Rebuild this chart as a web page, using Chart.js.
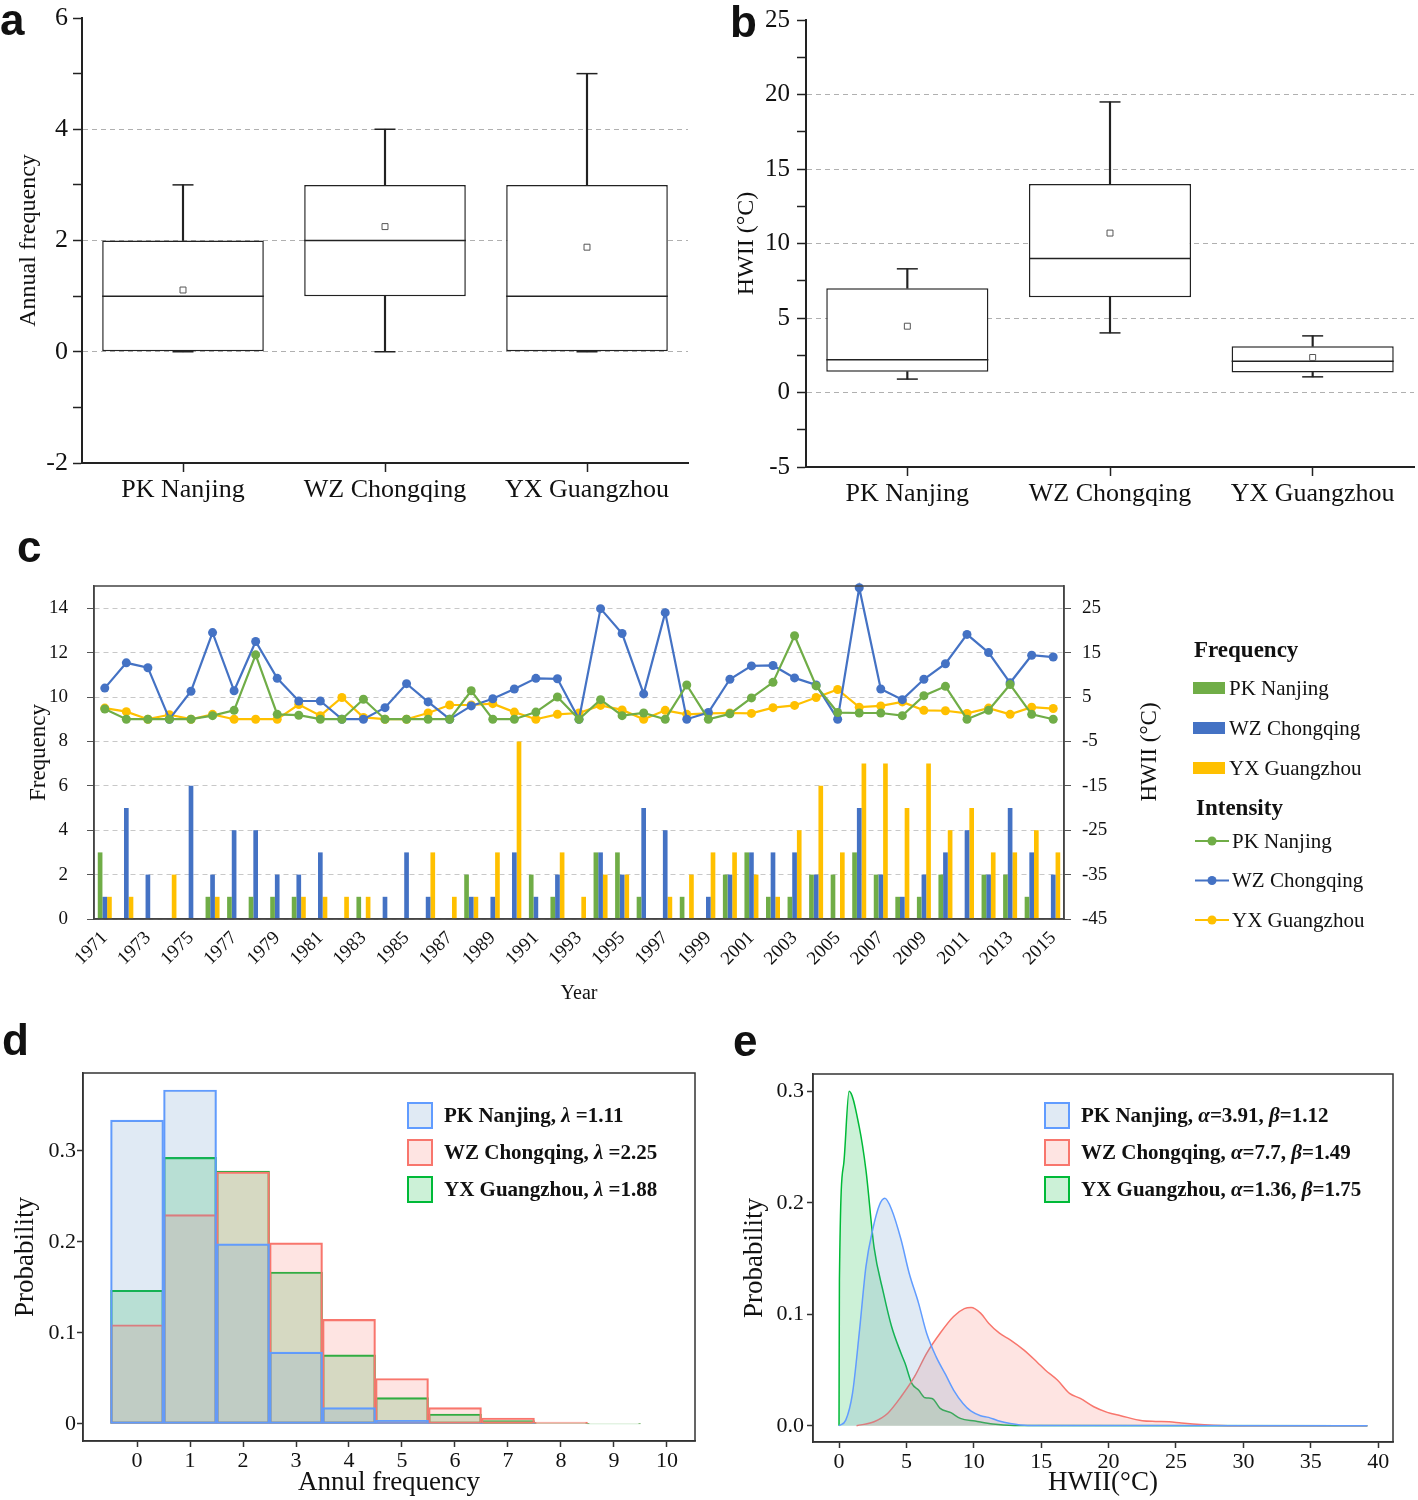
<!DOCTYPE html>
<html>
<head>
<meta charset="utf-8">
<script src="https://cdn.jsdelivr.net/npm/chart.js@4.4.1/dist/chart.umd.min.js"></script>
<style>
  body { margin: 0; background: #fff; }
  #page { position: relative; width: 1418px; height: 1500px; overflow: hidden; background: #fff; }
  .panel { position: absolute; }
  .tag { position: absolute; font: bold 44px "Liberation Sans", Arial, sans-serif; line-height: 44px; color: #111; }
</style>
</head>
<body>
<div id="page">
  <div class="panel" style="left:0;top:0;width:710px;height:520px"><canvas id="chartA"></canvas></div>
  <div class="panel" style="left:710px;top:0;width:708px;height:520px"><canvas id="chartB"></canvas></div>
  <div class="panel" style="left:0;top:560px;width:1418px;height:460px"><canvas id="chartC"></canvas></div>
  <div class="panel" style="left:0;top:1030px;width:710px;height:470px"><canvas id="chartD"></canvas></div>
  <div class="panel" style="left:710px;top:1030px;width:708px;height:470px"><canvas id="chartE"></canvas></div>
  <div class="tag" style="left:0;top:-2px">a</div>
  <div class="tag" style="left:730px;top:0">b</div>
  <div class="tag" style="left:17px;top:525px">c</div>
  <div class="tag" style="left:2px;top:1018px">d</div>
  <div class="tag" style="left:733px;top:1019px">e</div>
</div>
<script>
// sites
const sites = ['PK Nanjing', 'WZ Chongqing', 'YX Guangzhou'];

// a: annual frequency box plots
const aMin = [0, 0, 0];
const aQ1 = [0, 1, 0];
const aMed = [1, 2, 1];
const aQ3 = [2, 3, 3];
const aMax = [3, 4, 5];
const aMean = [1.11, 2.25, 1.88];
const aTicks = [-2, -1, 0, 1, 2, 3, 4, 5, 6];
const aTickLabels = [-2, 0, 2, 4, 6];
const aGrid = [0, 2, 4];

// b: HWII box plots
const bMin = [0.9, 4.0, 1.05];
const bQ1 = [1.4, 6.4, 1.35];
const bMed = [2.2, 9.0, 2.1];
const bQ3 = [7.0, 14.0, 3.1];
const bMax = [8.3, 19.5, 3.8];
const bMean = [4.45, 10.7, 2.35];
const bTicks = [-5, -2.5, 0, 2.5, 5, 7.5, 10, 12.5, 15, 17.5, 20, 22.5, 25];
const bTickLabels = [-5, 0, 5, 10, 15, 20, 25];
const bGrid = [0, 5, 10, 15, 20];

// c: yearly frequency (bars) and intensity (lines)
const years = ['1971','1972','1973','1974','1975','1976','1977','1978','1979','1980',
  '1981','1982','1983','1984','1985','1986','1987','1988','1989','1990',
  '1991','1992','1993','1994','1995','1996','1997','1998','1999','2000',
  '2001','2002','2003','2004','2005','2006','2007','2008','2009','2010',
  '2011','2012','2013','2014','2015'];
const freqPK = [3,0,0,0,0,1,1,1,1,1, 0,0,1,0,0,0,0,2,0,0, 2,1,0,3,3,1,0,1,0,2, 3,1,1,2,2,3,2,1,1,2, 0,2,2,1,0];
const freqWZ = [1,5,2,0,6,2,4,4,2,2, 3,0,0,1,3,1,0,1,1,3, 1,2,0,3,2,5,4,0,1,2, 3,3,3,2,0,5,2,1,2,3, 4,2,5,3,2];
const freqYX = [1,1,0,2,0,1,0,0,0,1, 1,1,1,0,0,3,1,1,3,8, 0,3,1,2,2,0,1,2,3,3, 2,1,4,6,3,7,7,5,7,4, 5,3,3,4,3];
const hwiiPK = [2.3,0,0,0,0,0.8,2.0,14.5,1.1,0.9, 0,0,4.5,0,0,0,0,6.4,0,0, 1.6,5.0,0,4.4,0.8,1.4,0,7.7,0,1.2,
  4.8,8.3,18.8,7.5,1.5,1.4,1.4,0.8,5.3,7.4, 0,2.0,7.8,1.1,0];
const hwiiWZ = [7.0,12.7,11.6,0,6.3,19.5,6.4,17.5,9.2,4.1, 4.1,0,0,2.6,8.0,3.9,0,3.0,4.6,6.8, 9.2,9.1,0,24.9,19.3,5.7,24.0,0,1.5,9.0,
  12.0,12.1,9.3,7.7,0,29.6,6.8,4.4,9.0,12.5, 19.1,15.0,8.2,14.4,14.0];
const hwiiYX = [2.5,1.7,0,1.0,0,1.1,0,0,0,3.3, 0.8,4.9,0.4,0,0,1.4,3.2,3.2,3.5,1.6, 0,1.1,1.4,3.1,2.1,0,2.0,1.1,1.3,1.4,
  1.3,2.6,3.1,4.9,6.7,2.7,3.0,3.9,2.0,1.9, 1.3,2.5,1.1,2.7,2.4];
const cLeftTicks = [0, 2, 4, 6, 8, 10, 12, 14];
const cRightTicks = [-45, -35, -25, -15, -5, 5, 15, 25];

// d: Poisson fit of annual frequency
const dBins = [0, 1, 2, 3, 4, 5, 6, 7, 8, 9];
const dPK = [0.334, 0.367, 0.198, 0.079, 0.018, 0.004, 0.001, 0.0003, 0, 0];
const dWZ = [0.109, 0.230, 0.277, 0.199, 0.115, 0.050, 0.018, 0.0066, 0.002, 0.0005];
const dYX = [0.147, 0.293, 0.278, 0.167, 0.076, 0.029, 0.011, 0.0037, 0.001, 0.0002];
const dTicks = [0, 1, 2, 3, 4, 5, 6, 7, 8, 9, 10];
const dYTicks = [0, 0.1, 0.2, 0.3];
const dLabels = ['PK Nanjing, λ =1.11', 'WZ Chongqing, λ =2.25', 'YX Guangzhou, λ =1.88'];

// e: gamma fit of HWII
const ePKx = [0, 0.5, 1.0, 1.5, 2.0, 2.5, 3.0, 3.4, 3.9, 4.6, 5.2, 5.9, 6.5, 7.2, 7.9, 8.5, 9.2, 9.8, 10.5, 11.1, 11.8, 12.7, 14.0, 39.2];
const ePKy = [0, 0.005, 0.029, 0.083, 0.143, 0.176, 0.198, 0.204, 0.194, 0.167, 0.137, 0.110, 0.083, 0.062, 0.046, 0.032, 0.020, 0.013, 0.009, 0.0075, 0.0045, 0.002, 0.0003, 0];
const eWZx = [1.3, 2.6, 3.6, 4.6, 5.6, 6.5, 7.5, 8.5, 9.3, 9.8, 10.5, 11.1, 11.9, 12.7, 13.7, 14.7, 15.3, 16.2, 17.1, 17.9, 18.9, 19.9, 20.9, 22.5, 23.5, 24.5, 25.4, 27.1, 29.3, 39.2];
const eWZy = [0, 0.0036, 0.011, 0.026, 0.044, 0.065, 0.083, 0.098, 0.105, 0.106, 0.101, 0.092, 0.083, 0.077, 0.068, 0.057, 0.050, 0.041, 0.029, 0.0245, 0.017, 0.012, 0.009, 0.0045, 0.0039, 0.0036, 0.0024, 0.0009, 0, 0];
const eYXx = [0, 0.03, 0.35, 0.75, 1.5, 2.0, 2.6, 3.3, 3.9, 4.6, 4.9, 5.4, 5.9, 6.4, 6.9, 7.5, 8.3, 9.0, 10.1, 11.4, 13.0, 39.2];
const eYXy = [0, 0.13, 0.235, 0.300, 0.268, 0.229, 0.160, 0.119, 0.089, 0.065, 0.056, 0.038, 0.032, 0.025, 0.0245, 0.0155, 0.0117, 0.0066, 0.0042, 0.0015, 0.0003, 0];
const eTicks = [0, 5, 10, 15, 20, 25, 30, 35, 40];
const eYTicks = [0, 0.1, 0.2, 0.3];
const eLabels = ['PK Nanjing, α=3.91, β=1.12', 'WZ Chongqing, α=7.7, β=1.49', 'YX Guangzhou, α=1.36, β=1.75'];

const SERIF = '"Liberation Serif", "Times New Roman", serif';
Chart.defaults.font.family = SERIF;
Chart.defaults.color = '#111';
Chart.defaults.animation = false;
Chart.defaults.events = [];
Chart.defaults.maintainAspectRatio = false;
Chart.defaults.layout.autoPadding = false;
Chart.defaults.plugins.legend.display = false;
Chart.defaults.plugins.tooltip.enabled = false;

const green = '#70AD47', blue = '#4472C4', yellow = '#FFC000';
const pkLine = '#619CFF', wzLine = '#F8766D', yxLine = '#00BA38';
const pkFill = 'rgba(100,150,200,0.2)', wzFill = 'rgba(248,118,109,0.2)', yxFill = 'rgba(0,186,56,0.2)';

const setTicks = vals => ax => { ax.ticks = vals.map(v => ({value: v})); };
// fixed width for a vertical axis, without extra room for the end labels
const fixW = w => s => { s.width = w; s.paddingTop = 0; s.paddingBottom = 0; };

const framePlugin = {
  id: 'frame',
  afterDraw(chart, args, opts) {
    const {ctx, chartArea: a} = chart;
    ctx.save();
    ctx.strokeStyle = opts.color || '#333';
    ctx.lineWidth = opts.width || 1.5;
    ctx.strokeRect(a.left, a.top, a.right - a.left, a.bottom - a.top);
    ctx.restore();
  }
};

// legend with boxes, greek letters in italic
const boxLegend = {
  id: 'boxLegend',
  afterDraw(chart, args, opts) {
    const {ctx, chartArea: a} = chart;
    ctx.save();
    chart.data.datasets.forEach((ds, i) => {
      const x = a.left + opts.dx, y = a.top + opts.dy + i * 37;
      ctx.fillStyle = '#fff';
      ctx.fillRect(x, y, 24, 25);
      ctx.fillStyle = ds.backgroundColor;
      ctx.fillRect(x, y, 24, 25);
      ctx.strokeStyle = ds.borderColor;
      ctx.lineWidth = 2;
      ctx.strokeRect(x, y, 24, 25);
      let tx = x + 36;
      ctx.textBaseline = 'middle';
      ctx.fillStyle = '#111';
      for (const part of ds.label.split(/([α-ω])/)) {
        if (!part) continue;
        const it = /[α-ω]/.test(part);
        ctx.font = (it ? 'italic ' : '') + 'bold 21px ' + SERIF;
        ctx.fillText(part, tx, y + 14);
        tx += ctx.measureText(part).width;
      }
    });
    ctx.restore();
  }
};

function boxChart(id, mn, q1, med, q3, mx, mean, cfg) {
  const pair = (lo, hi) => lo.map((v, i) => [v, hi[i]]);
  const marks = (data, style, r, more) => Object.assign({
    type: 'line', data, showLine: false, pointStyle: style, pointRadius: r, pointHoverRadius: r,
    pointBorderColor: '#222', pointBorderWidth: 1.5, pointBackgroundColor: '#fff', clip: false
  }, more);
  return new Chart(document.getElementById(id), {
    type: 'bar',
    data: {
      labels: sites,
      datasets: [
        marks(mean, 'rect', 4.2, {pointBorderColor: '#555', pointBorderWidth: 1}),
        marks(med, 'line', cfg.halfBox),
        marks(mx, 'line', 10.5),
        marks(mn, 'line', 10.5),
        {data: pair(q3, mx), backgroundColor: '#222', barThickness: 1.5},
        {data: pair(mn, q1), backgroundColor: '#222', barThickness: 1.5},
        {data: pair(q1, q3), backgroundColor: '#fff', borderColor: '#222', borderWidth: 1.5,
         borderSkipped: false, barPercentage: 0.8, categoryPercentage: 1}
      ]
    },
    options: {
      layout: {padding: {top: cfg.top, right: cfg.right, left: 0, bottom: 0}},
      scales: {
        x: {
          stacked: true,
          grid: {offset: false, drawOnChartArea: false, tickLength: 9, tickWidth: 1.5, tickColor: '#222'},
          border: {color: '#222', width: 2},
          ticks: {font: {size: 26}, padding: 3, maxRotation: 0},
          afterFit: s => { s.height = cfg.xH; }
        },
        y: {
          stacked: false, min: cfg.min, max: cfg.max,
          afterBuildTicks: setTicks(cfg.ticks),
          ticks: {font: {size: cfg.tickSize}, padding: cfg.tickPad,
                  callback: v => cfg.labels.includes(v) ? String(v) : ''},
          grid: {color: c => (c.tick && cfg.grid.includes(c.tick.value)) ? '#b0b0b0' : 'rgba(0,0,0,0)',
                 tickColor: '#222', tickLength: 9, tickWidth: 1.5},
          border: {color: '#222', width: 2, dash: [5, 4]},
          title: {display: true, text: cfg.title, font: {size: 24}, padding: {top: cfg.titlePad}},
          afterFit: fixW(cfg.yW)
        }
      }
    }
  });
}

boxChart('chartA', aMin, aQ1, aMed, aQ3, aMax, aMean, {
  halfBox: 80.8, top: 18, right: 22, xH: 57, yW: 82, min: -2, max: 6,
  ticks: aTicks, labels: aTickLabels, grid: aGrid, tickSize: 26, tickPad: 5,
  title: 'Annual frequency', titlePad: 14
});
boxChart('chartB', bMin, bQ1, bMed, bQ3, bMax, bMean, {
  halfBox: 81, top: 20, right: 4, xH: 53, yW: 96, min: -5, max: 25,
  ticks: bTicks, labels: bTickLabels, grid: bGrid, tickSize: 25, tickPad: 7,
  title: 'HWII (°C)', titlePad: 22
});

// panel c legend and right axis title
const cLegend = {
  id: 'cLegend',
  afterDraw(chart) {
    const ctx = chart.ctx;
    const ds = chart.data.datasets;
    const bars = ds.filter(d => d.type !== 'line');
    const lines = ds.filter(d => d.type === 'line');
    ctx.save();
    ctx.fillStyle = '#111';
    ctx.textBaseline = 'alphabetic';
    ctx.font = 'bold 23px ' + SERIF;
    ctx.fillText('Frequency', 1194, 97);
    ctx.fillText('Intensity', 1196, 255);
    ctx.font = '21px ' + SERIF;
    ctx.textBaseline = 'middle';
    bars.forEach((d, i) => {
      const y = 128 + i * 40;
      ctx.fillStyle = d.backgroundColor;
      ctx.fillRect(1193, y - 6, 32, 12);
      ctx.fillStyle = '#111';
      ctx.fillText(d.label, 1229, y + 1);
    });
    lines.forEach((d, i) => {
      const y = 281 + i * 39.5;
      ctx.strokeStyle = d.borderColor;
      ctx.lineWidth = 2;
      ctx.beginPath(); ctx.moveTo(1195, y); ctx.lineTo(1229, y); ctx.stroke();
      ctx.fillStyle = d.borderColor;
      ctx.beginPath(); ctx.arc(1212, y, 4.5, 0, Math.PI * 2); ctx.fill();
      ctx.fillStyle = '#111';
      ctx.fillText(d.label, 1232, y + 1);
    });
    ctx.translate(1150, 192);
    ctx.rotate(-Math.PI / 2);
    ctx.textAlign = 'center';
    ctx.font = '23px ' + SERIF;
    ctx.fillText('HWII (°C)', 0, 0);
    ctx.restore();
  }
};

const lineSet = (label, data, color) => ({
  type: 'line', label, data, yAxisID: 'y2', order: 0, clip: false,
  borderColor: color, backgroundColor: color, borderWidth: 2.2,
  pointRadius: 4.5, pointBorderWidth: 0, pointBackgroundColor: color, tension: 0
});
const barSet = (label, data, color) => ({label, data, yAxisID: 'y', order: 1, backgroundColor: color});

new Chart(document.getElementById('chartC'), {
  type: 'bar',
  data: {
    labels: years,
    datasets: [
      lineSet('PK Nanjing', hwiiPK, green),
      lineSet('WZ Chongqing', hwiiWZ, blue),
      lineSet('YX Guangzhou', hwiiYX, yellow),
      barSet('PK Nanjing', freqPK, green),
      barSet('WZ Chongqing', freqWZ, blue),
      barSet('YX Guangzhou', freqYX, yellow)
    ]
  },
  options: {
    layout: {padding: {top: 26, right: 254, left: 0, bottom: 0}},
    datasets: {bar: {categoryPercentage: 0.65, barPercentage: 1}},
    scales: {
      x: {
        grid: {drawOnChartArea: false, tickLength: 4, tickColor: 'rgba(0,0,0,0)'},
        border: {color: '#444', width: 1.5},
        ticks: {autoSkip: false, minRotation: 45, maxRotation: 45, font: {size: 19}, padding: 4,
                callback(v, i) { return i % 2 === 0 ? this.getLabelForValue(v) : ''; }},
        title: {display: true, text: 'Year', font: {size: 20}, padding: {top: 0, bottom: 14}},
        afterFit: s => { s.height = 101; }
      },
      y: {
        position: 'left', min: 0, max: 15,
        afterBuildTicks: setTicks(cLeftTicks),
        ticks: {font: {size: 19}, padding: 19},
        grid: {color: '#c8c8c8', tickColor: '#555', tickLength: 7},
        border: {color: '#444', width: 1.5, dash: [5, 4]},
        title: {display: true, text: 'Frequency', font: {size: 23}, padding: {top: 25}},
        afterFit: fixW(94)
      },
      y2: {
        position: 'right', min: -45, max: 30,
        afterBuildTicks: setTicks(cRightTicks),
        ticks: {font: {size: 19}, padding: 11},
        grid: {drawOnChartArea: false, tickColor: '#555', tickLength: 7},
        border: {color: '#444', width: 1.5},
        afterFit: fixW(100)
      }
    },
    plugins: {frame: {color: '#444', width: 1.5}}
  },
  plugins: [framePlugin, cLegend]
});

// panel d: overlapping bins on a linear axis
const binSet = (label, vals, fill, line) => ({
  type: 'bar', label, data: dBins.map((b, i) => ({x: b, y: vals[i]})),
  backgroundColor: fill, borderColor: line,
  barPercentage: 1, categoryPercentage: 1, borderWidth: 1.5, borderSkipped: false
});
new Chart(document.getElementById('chartD'), {
  type: 'line',
  data: {
    datasets: [
      binSet(dLabels[0], dPK, pkFill, pkLine),
      binSet(dLabels[1], dWZ, wzFill, wzLine),
      binSet(dLabels[2], dYX, yxFill, yxLine)
    ]
  },
  options: {
    layout: {padding: {top: 43, right: 15, left: 0, bottom: 0}},
    scales: {
      x: {
        type: 'linear', stacked: true, offset: false, min: -1.02, max: 10.53,
        afterBuildTicks: setTicks(dTicks),
        grid: {offset: false, drawOnChartArea: false, tickLength: 6, tickColor: '#333', tickWidth: 1.5},
        border: {color: '#333', width: 1.5},
        ticks: {font: {size: 22}, padding: 1},
        title: {display: true, text: 'Annul frequency', font: {size: 27}, padding: {top: 0, bottom: 1}},
        afterFit: s => { s.height = 59; }
      },
      y: {
        stacked: false, min: -0.0187, max: 0.3857,
        afterBuildTicks: setTicks(dYTicks),
        ticks: {font: {size: 22}, padding: 1, callback: v => v === 0 ? '0' : v.toFixed(1)},
        grid: {drawOnChartArea: false, tickLength: 6, tickColor: '#333', tickWidth: 1.5},
        border: {color: '#333', width: 1.5},
        title: {display: true, text: 'Probability', font: {size: 27}, padding: {top: 10}},
        afterFit: fixW(83)
      }
    },
    plugins: {frame: {color: '#333', width: 1.5}, boxLegend: {dx: 325, dy: 30}}
  },
  plugins: [framePlugin, boxLegend]
});

// panel e
const curve = (label, xs, ys, fill, line) => ({
  label, data: xs.map((x, i) => ({x, y: ys[i]})),
  backgroundColor: fill, borderColor: line, fill: 'origin',
  borderWidth: 1.5, pointRadius: 0, cubicInterpolationMode: 'monotone'
});
new Chart(document.getElementById('chartE'), {
  type: 'line',
  data: {
    datasets: [
      curve(eLabels[0], ePKx, ePKy, pkFill, pkLine),
      curve(eLabels[1], eWZx, eWZy, wzFill, wzLine),
      curve(eLabels[2], eYXx, eYXy, yxFill, yxLine)
    ]
  },
  options: {
    layout: {padding: {top: 44, right: 25, left: 0, bottom: 0}},
    scales: {
      x: {
        type: 'linear', min: -1.93, max: 41.1,
        afterBuildTicks: setTicks(eTicks),
        grid: {drawOnChartArea: false, tickLength: 6, tickColor: '#333', tickWidth: 1.5},
        border: {color: '#333', width: 1.5},
        ticks: {font: {size: 22}, padding: 1},
        title: {display: true, text: 'HWII(°C)', font: {size: 27}, padding: {top: 0, bottom: 1}},
        afterFit: s => { s.height = 58; }
      },
      y: {
        min: -0.0146, max: 0.3155,
        afterBuildTicks: setTicks(eYTicks),
        ticks: {font: {size: 22}, padding: 3, callback: v => v.toFixed(1)},
        grid: {drawOnChartArea: false, tickLength: 6, tickColor: '#333', tickWidth: 1.5},
        border: {color: '#333', width: 1.5},
        title: {display: true, text: 'Probability', font: {size: 27}, padding: {top: 29}},
        afterFit: fixW(103)
      }
    },
    plugins: {frame: {color: '#333', width: 1.5}, boxLegend: {dx: 232, dy: 29}}
  },
  plugins: [framePlugin, boxLegend]
});
</script>
</body>
</html>
